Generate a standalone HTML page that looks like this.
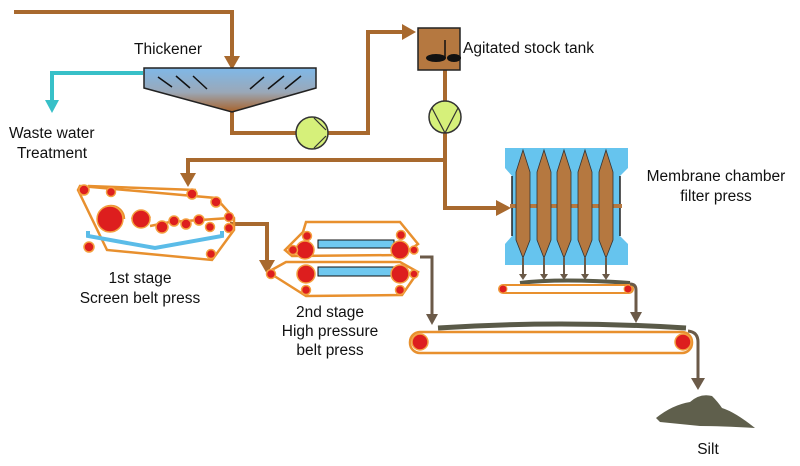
<!DOCTYPE html>
<html><head><meta charset="utf-8"><style>
html,body{margin:0;padding:0;background:#fff;width:800px;height:466px;overflow:hidden}
text{font-family:"Liberation Sans",sans-serif;font-size:15.5px;fill:#111}
</style></head><body>
<svg width="800" height="466" viewBox="0 0 800 466" xmlns="http://www.w3.org/2000/svg">
<defs>
<linearGradient id="tg" x1="0" y1="0" x2="0" y2="1">
<stop offset="0" stop-color="#7fb8e8"/><stop offset="0.55" stop-color="#9aa8b8"/><stop offset="1" stop-color="#a8622a"/></linearGradient>
</defs>
<g fill="none" stroke="#a8692e" stroke-width="4">
<polyline points="14,12 232,12 232,58"/>
<polyline points="232,112 232,133 296,133"/>
<polyline points="328,133 368,133 368,32 404,32"/>
<polyline points="445,70 445,101"/>
<polyline points="445,133 445,208 498,208"/>
<polyline points="445,160 188,160 188,176"/>
<polyline points="230,224 267,224 267,262"/>
</g>
<g fill="#a8692e">
<polygon points="224,56 240,56 232,70"/>
<polygon points="402,24 416,32 402,40"/>
<polygon points="180,173 196,173 188,187"/>
<polygon points="496,200 511,208 496,216"/>
<polygon points="259,260 275,260 267,274"/>
</g>
<polyline points="143,73 52,73 52,102" fill="none" stroke="#38c0c8" stroke-width="4"/>
<polygon points="45,100 59,100 52,113" fill="#38c0c8"/>
<polygon points="144,68 316,68 316,88 232,112 144,88" fill="url(#tg)" stroke="#222" stroke-width="1.5"/>
<g stroke="#111" stroke-width="1.5"><line x1="158" y1="77" x2="172" y2="87"/><line x1="176" y1="76" x2="190" y2="88"/><line x1="193" y1="76" x2="207" y2="89"/><line x1="250" y1="89" x2="264" y2="77"/><line x1="268" y1="89" x2="284" y2="76"/><line x1="285" y1="89" x2="301" y2="76"/></g>
<g fill="#d6f07a" stroke="#333" stroke-width="1.5"><circle cx="312" cy="133" r="16"/><circle cx="445" cy="117" r="16"/></g>
<g stroke="#333" stroke-width="1.2"><line x1="314" y1="118" x2="326" y2="130"/><line x1="314" y1="148" x2="326" y2="136"/><line x1="432" y1="108" x2="445" y2="133"/><line x1="458" y1="108" x2="445" y2="133"/></g>
<rect x="418" y="28" width="42" height="42" fill="#b57840" stroke="#222" stroke-width="1.5"/>
<line x1="445" y1="40" x2="445" y2="58" stroke="#111" stroke-width="1.5"/>
<ellipse cx="436" cy="58" rx="10" ry="4" fill="#111"/><ellipse cx="454" cy="58" rx="7" ry="4" fill="#111"/>
<text x="463" y="53">Agitated stock tank</text>
<text x="134" y="54">Thickener</text>
<text x="9" y="138">Waste water</text>
<text x="17" y="158">Treatment</text>
<!-- 1st stage -->
<g fill="none" stroke="#e8902e" stroke-width="2.5">
<polygon points="80,186 216,198 234,218 234,230 212,260 107,250 78,190"/>
<line x1="88" y1="186" x2="196" y2="190"/>
<path d="M98,219 A12,12 0 0 1 124,219 M132,219 A10,10 0 0 1 150,218 M150,226 L170,222 L200,220 L230,218"/>
</g>
<polyline points="88,231 88,236 155,248 222,236 222,231" fill="none" stroke="#5bbce8" stroke-width="4"/>
<g fill="#dd1e1e" stroke="#f4a040" stroke-width="1.5">
<circle cx="84" cy="190" r="5"/><circle cx="111" cy="192" r="4.5"/><circle cx="192" cy="194" r="5"/><circle cx="216" cy="202" r="5"/>
<circle cx="89" cy="247" r="5"/><circle cx="211" cy="254" r="4.5"/><circle cx="229" cy="217" r="4.5"/><circle cx="229" cy="228" r="4.5"/>
<circle cx="110" cy="219" r="13"/><circle cx="141" cy="219" r="9"/><circle cx="162" cy="227" r="6"/><circle cx="174" cy="221" r="5"/><circle cx="186" cy="224" r="5"/><circle cx="199" cy="220" r="5"/><circle cx="210" cy="227" r="4.5"/>
</g>
<text x="140" y="283" text-anchor="middle">1st stage</text>
<text x="140" y="303" text-anchor="middle">Screen belt press</text>
<!-- 2nd stage -->
<g fill="none" stroke="#e8902e" stroke-width="2.5">
<polygon points="303,232 306,222 400,222 418,244 402,255 292,256 285,250"/>
<polygon points="286,262 400,262 418,272 402,295 306,296 268,272"/>
</g>
<g fill="#6fc8f0" stroke="#111" stroke-width="1"><rect x="318" y="240" width="76" height="8"/><rect x="318" y="267" width="76" height="9"/></g>
<g fill="#dd1e1e" stroke="#f4a040" stroke-width="1.5">
<circle cx="307" cy="236" r="4.5"/><circle cx="401" cy="235" r="4.5"/><circle cx="305" cy="250" r="9"/><circle cx="400" cy="250" r="9"/><circle cx="293" cy="250" r="4.5"/><circle cx="414" cy="250" r="4"/>
<circle cx="306" cy="274" r="9"/><circle cx="400" cy="274" r="9"/><circle cx="271" cy="274" r="4.5"/><circle cx="414" cy="274" r="4"/><circle cx="306" cy="290" r="4.5"/><circle cx="400" cy="290" r="4.5"/>
</g>
<text x="330" y="317" text-anchor="middle">2nd stage</text>
<text x="330" y="336" text-anchor="middle">High pressure</text>
<text x="330" y="355" text-anchor="middle">belt press</text>
<!-- Filter press -->
<polygon points="505,148 628,148 628,168 620,176 620,236 628,244 628,265 505,265 505,244 512,236 512,176 505,168" fill="#66c4ee"/>
<g stroke="#222" stroke-width="1.5"><line x1="512" y1="176" x2="512" y2="236"/><line x1="620" y1="176" x2="620" y2="236"/></g>
<line x1="510" y1="206" x2="622" y2="206" stroke="#b57840" stroke-width="4"/>
<g fill="#b57840" stroke="#333" stroke-width="0.8">
<polygon points="523,150 530,172 530,240 523,258 516,240 516,172"/>
<polygon points="544,150 551,172 551,240 544,258 537,240 537,172"/>
<polygon points="564,150 571,172 571,240 564,258 557,240 557,172"/>
<polygon points="585,150 592,172 592,240 585,258 578,240 578,172"/>
<polygon points="606,150 613,172 613,240 606,258 599,240 599,172"/>
</g>
<text x="716" y="181" text-anchor="middle">Membrane chamber</text>
<text x="716" y="201" text-anchor="middle">filter press</text>
<g stroke="#6b5a48" stroke-width="2"><line x1="523" y1="258" x2="523" y2="276"/><line x1="544" y1="258" x2="544" y2="276"/><line x1="564" y1="258" x2="564" y2="276"/><line x1="585" y1="258" x2="585" y2="276"/><line x1="606" y1="258" x2="606" y2="276"/></g>
<g fill="#6b5a48"><polygon points="519,274 527,274 523,280"/><polygon points="540,274 548,274 544,280"/><polygon points="560,274 568,274 564,280"/><polygon points="581,274 589,274 585,280"/><polygon points="602,274 610,274 606,280"/></g>
<!-- small conveyor -->
<path d="M520,283 Q560,278 630,283" stroke="#5a5a48" stroke-width="4" fill="none"/>
<rect x="499" y="285" width="134" height="8" rx="4" fill="#fff" stroke="#e8902e" stroke-width="2"/>
<g fill="#dd1e1e" stroke="#f4a040" stroke-width="1"><circle cx="503" cy="289" r="4"/><circle cx="628" cy="289" r="4"/></g>
<path d="M630,284 Q636,284 636,290 L636,314" fill="none" stroke="#6b5a48" stroke-width="3"/>
<polygon points="630,312 642,312 636,323" fill="#6b5a48"/>
<polyline points="420,257 432,257 432,316" fill="none" stroke="#6b5a48" stroke-width="3"/>
<polygon points="426,314 438,314 432,325" fill="#6b5a48"/>
<!-- big conveyor -->
<path d="M438,328 Q560,320 686,328" stroke="#5a5a48" stroke-width="5" fill="none"/>
<rect x="410" y="332" width="282" height="21" rx="10" fill="#fff" stroke="#e8902e" stroke-width="2.5"/>
<g fill="#dd1e1e" stroke="#f4a040" stroke-width="1.5"><circle cx="420" cy="342" r="8"/><circle cx="683" cy="342" r="8"/></g>
<path d="M688,331 Q698,332 698,342 L698,380" fill="none" stroke="#6b5a48" stroke-width="3"/>
<polygon points="691,378 705,378 698,390" fill="#6b5a48"/>
<path d="M656,418 Q672,405 690,402 Q700,393 712,396 Q718,402 722,408 Q735,412 755,428 Q720,426 700,426 Q680,424 660,422 Z" fill="#5f5f4c"/>
<text x="708" y="454" text-anchor="middle">Silt</text>
</svg>
</body></html>
